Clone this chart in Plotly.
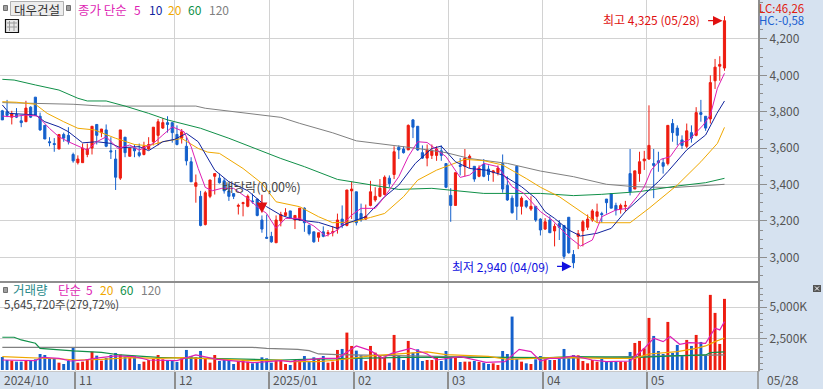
import plotly.graph_objects as go

W, H = 823, 389

# ---------- data (won / thousand shares) ----------
opens = [3805,3800,3770,3785,3750,3745,3825,3880,3775,3725,3635,3625,3595,3675,3670,3565,3520,3520,3565,3600,3730,3685,3700,3585,3540,3435,3660,3555,3600,3575,3565,3595,3635,3670,3710,3740,3740,3675,3655,3610,3525,3390,3335,3180,3335,3445,3435,3420,3365,3350,3280,3295,3280,3310,3320,3205,3110,3115,3080,3200,3230,3255,3205,3205,3270,3175,3140,3110,3140,3130,3135,3155,3210,3175,3365,3360,3240,3210,3285,3315,3335,3345,3435,3455,3605,3595,3590,3755,3720,3575,3545,3560,3560,3585,3515,3340,3285,3505,3500,3545,3500,3445,3510,3485,3465,3465,3515,3395,3325,3500,3280,3310,3265,3280,3210,3155,3205,3145,3185,3175,3220,3015,3115,3145,3165,3205,3225,3240,3320,3350,3285,3265,3280,3460,3375,3460,3530,3540,3515,3530,3520,3515,3735,3710,3645,3610,3685,3670,3795,3775,3760,3970,4050,4040]
highs = [3810,3865,3805,3820,3780,3860,3830,3880,3795,3725,3660,3655,3675,3685,3715,3575,3560,3625,3625,3720,3730,3705,3730,3660,3590,3700,3660,3600,3620,3625,3635,3660,3715,3760,3765,3775,3740,3725,3705,3660,3550,3455,3365,3365,3425,3460,3460,3435,3405,3350,3295,3305,3345,3350,3320,3230,3235,3140,3230,3250,3270,3255,3230,3270,3275,3180,3140,3135,3170,3150,3170,3240,3285,3370,3415,3360,3295,3290,3420,3385,3430,3450,3450,3610,3615,3610,3730,3760,3720,3615,3620,3620,3610,3615,3515,3380,3465,3545,3595,3565,3500,3505,3540,3505,3480,3505,3565,3445,3340,3500,3335,3315,3335,3280,3215,3215,3225,3185,3205,3175,3220,3040,3150,3205,3235,3265,3295,3250,3320,3350,3300,3295,3310,3595,3475,3580,3585,3835,3595,3580,3545,3725,3760,3725,3670,3735,3725,3825,3865,3775,4000,4090,4105,4325]
lows = [3755,3770,3730,3765,3715,3745,3765,3780,3695,3650,3610,3580,3595,3635,3620,3520,3510,3520,3550,3565,3620,3660,3605,3540,3370,3425,3550,3555,3550,3550,3560,3590,3615,3615,3705,3685,3630,3615,3625,3505,3415,3300,3170,3175,3325,3345,3405,3350,3310,3320,3235,3225,3275,3295,3225,3135,3105,3080,3080,3170,3225,3210,3155,3200,3140,3120,3080,3085,3110,3115,3115,3130,3160,3170,3210,3175,3195,3205,3280,3305,3330,3340,3385,3430,3540,3570,3590,3655,3585,3540,3500,3540,3530,3530,3380,3195,3285,3450,3445,3490,3415,3440,3440,3420,3415,3450,3355,3310,3240,3205,3235,3270,3255,3195,3120,3150,3135,3060,3095,2990,3020,2940,3045,3060,3150,3195,3190,3190,3240,3270,3230,3240,3250,3340,3375,3415,3480,3535,3325,3470,3460,3505,3635,3615,3595,3600,3630,3665,3745,3695,3735,3925,3970,4025]
closes = [3755,3780,3790,3770,3740,3820,3770,3780,3700,3650,3630,3620,3675,3655,3635,3530,3540,3600,3595,3720,3670,3705,3610,3580,3440,3700,3575,3600,3585,3560,3610,3620,3715,3745,3740,3730,3685,3620,3690,3530,3415,3410,3175,3355,3425,3460,3410,3365,3335,3335,3285,3300,3335,3305,3230,3155,3105,3085,3205,3235,3245,3215,3230,3270,3190,3130,3085,3135,3115,3135,3140,3205,3175,3370,3375,3190,3205,3225,3360,3335,3380,3440,3405,3580,3590,3575,3725,3715,3590,3545,3590,3585,3595,3560,3385,3285,3465,3500,3545,3555,3430,3490,3445,3455,3475,3490,3375,3315,3245,3280,3325,3280,3280,3205,3150,3195,3135,3170,3165,3005,3025,2970,3130,3195,3210,3255,3250,3235,3300,3270,3260,3285,3285,3360,3475,3525,3540,3615,3505,3520,3500,3725,3685,3670,3615,3695,3655,3795,3785,3710,3960,4045,4060,4300]
volumes = [1034,795,742,662,662,795,768,848,1272,1192,928,928,583,477,715,1775,583,662,848,1458,1140,742,954,1192,1352,1219,1034,1007,1113,477,662,795,875,1192,848,715,715,636,928,1590,1113,1007,1510,928,583,1192,715,795,848,477,715,795,662,530,610,1007,928,583,795,795,477,398,795,795,1113,636,1007,848,1113,583,662,1590,1670,2968,1908,1537,1166,715,1908,1378,1166,1060,583,2783,1166,795,2306,1378,1643,715,795,795,1007,715,1510,1007,1007,636,662,662,715,636,583,477,530,398,1510,1272,4240,875,662,530,477,848,1113,848,795,795,875,1670,928,1192,1166,715,530,795,662,875,662,662,662,662,662,1431,2146,2306,1722,4134,2703,1510,1272,3816,1352,1988,1113,2385,1908,2783,2226,1192,5962,4532,2067,5646]

ma5_i = [0,2,5,7.5,10,12,14,15.5,18,20,22,24.5,27,29,32,34,36,38.5,40,41.5,43,44.5,46.5,49,52,54,56,58,60,63,66,68.5,71,74,76,79,81,84,86,88,90,94,97,99,102,105,108,110.5,113,114,116.5,118,120,122.5,125,127,130,132.5,134.5,136,137.5,139.5,141.5,143.5,145.5,148.5,150,151.5,153]
ma5_v = [3776,3772,3782,3776,3708,3662,3635,3617,3589,3635,3662,3598,3617,3589,3626,3672,3717,3690,3608,3488,3384,3366,3379,3379,3324,3278,3241,3159,3214,3214,3172,3117,3150,3232,3269,3269,3333,3443,3553,3635,3631,3553,3439,3452,3516,3498,3388,3351,3278,3251,3205,3163,3113,3062,3095,3223,3260,3269,3333,3388,3480,3538,3553,3626,3645,3727,3782,3929,4011]
ma10_i = [0,1.5,7,9,12,14,17,20,23,25,29,31,34,36.5,39,41.5,45,48,52,56,59,61,64,67,71,73,77,81,84,87.5,91,93,96,99,102.5,106,110,113,115,117,120,122.5,126,129,132,135.5,139,141,145,149,150.6,151.4,153]
ma10_v = [3837,3791,3782,3745,3717,3690,3629,3635,3626,3602,3608,3586,3635,3648,3681,3635,3479,3415,3366,3278,3232,3214,3201,3192,3159,3186,3223,3333,3397,3516,3598,3611,3525,3488,3479,3452,3388,3324,3250,3214,3150,3117,3132,3159,3251,3333,3416,3471,3590,3672,3754,3791,3859]
ma20_i = [0,3,7,9.5,13,16,19.5,24,28,31,34,38,41.5,43.5,46,51,55,58,63,67,70,74.5,78,81,85,88,92,95,98,102,106,111,114,118,121.5,126,133,137,143,148,151.5,153]
ma20_v = [3855,3852,3841,3791,3745,3709,3700,3654,3620,3613,3635,3653,3598,3578,3571,3488,3406,3305,3278,3223,3190,3195,3219,3241,3333,3424,3479,3507,3538,3531,3507,3433,3385,3333,3269,3190,3190,3269,3397,3525,3626,3714]
ma60_i = [0,2.5,7,12,16,18,22,26,31,35,42,48,59,64,71,75,84,91,95,102,114,121,127,135,143,149,153]
ma60_v = [3978,3974,3947,3919,3874,3859,3859,3831,3791,3755,3709,3654,3543,3498,3428,3411,3373,3379,3369,3351,3351,3339,3346,3361,3392,3410,3434]
ma120_i = [0,15,21,41,43,49,59,63,70,75,81,88,94,99,107,114,121,128,134,142,153]
ma120_v = [3850,3841,3831,3831,3819,3800,3769,3736,3684,3640,3622,3598,3575,3543,3516,3474,3443,3401,3388,3383,3401]

vma5_i = [0,7,8.5,12,14.5,17.5,19.5,24,28,31,37,41,45.5,50.5,53,59,61,67.5,71,75,78,80.5,82.5,86.5,90,92,97,102.5,106.5,109.5,112,114,116,118,121,125,128,133,136,138,140,141.5,143.5,145.5,149,151,152,153]
vma5_v = [795,742,1007,927,715,795,927,1113,1060,795,742,1192,848,662,583,742,662,927,927,1908,1537,927,1325,1722,1272,795,1060,610,662,1643,1457,715,927,927,1113,795,662,715,1722,2517,2252,2650,2040,2173,2120,3312,3180,3842]
vma20_i = [0,4,7,12.5,16,21,27,33,38,45,53,59,61,67,71,78,84,90,94,103,107,116,118,128,134,137,143,147,149,151,153]
vma20_v = [1060,1007,980,874,795,848,980,927,980,848,742,795,662,662,795,1113,1272,1431,1219,1086,848,1007,1007,927,927,1272,1457,1722,1908,2252,2544]
vma60_i = [0,2.5,4,7,8,12.5,15,21,25,33,42,49,59,64,72,85,103,116,121,131,135,142,149,150,153]
vma60_v = [2597,2597,2385,2120,1722,1563,1510,1404,1192,1007,927,848,795,848,927,1007,1007,980,1060,1007,1007,1113,1192,1378,1431]
vma120_i = [0,53,56,62.6,65,67,71,78,91,102,116,133,142,153]
vma120_v = [1802,1802,1722,1643,1537,1272,1219,1166,1060,980,927,1060,1113,1192]

month_index = [0, 16, 37, 57, 75, 95, 115, 137]
month_labels = ["2024/10", "11", "12", "2025/01", "02", "03", "04", "05"]
last_date = "05/28"
price_ticks = [3000, 3200, 3400, 3600, 3800, 4000, 4200]
price_tick_labels = ["3,000", "3,200", "3,400", "3,600", "3,800", "4,000", "4,200"]
volume_ticks = [2500, 5000]
volume_tick_labels = ["2,500K", "5,000K"]
high_text, low_text = "최고 4,325 (05/28)", "최저 2,940 (04/09)"
high_value, low_value = 4300, 2950

# ---------- style ----------
FONT = "Noto Sans CJK KR, Liberation Sans, sans-serif"
RED, BLUE = "#EE1C10", "#1460CC"
MAGENTA, NAVY, ORANGE, GREEN, GRAY = "#DE1FB4", "#10239E", "#F0A800", "#109048", "#808080"
STRIP, GRID, AXIS, TXT = "#D6E2F0", "#D2D2D2", "#8E8E8E", "#555555"
idx = list(range(len(closes)))

fig = go.Figure()
for xs, ys, c in [(ma120_i, ma120_v, GRAY), (ma60_i, ma60_v, GREEN), (ma20_i, ma20_v, ORANGE),
                  (ma10_i, ma10_v, NAVY), (ma5_i, ma5_v, MAGENTA)]:
    fig.add_trace(go.Scatter(x=xs, y=ys, mode="lines", line=dict(color=c, width=1), xaxis="x", yaxis="y", hoverinfo="skip"))
fig.add_trace(go.Candlestick(x=idx, open=opens, high=highs, low=lows, close=closes, whiskerwidth=0,
                             increasing=dict(line=dict(color=RED, width=1), fillcolor=RED),
                             decreasing=dict(line=dict(color=BLUE, width=1), fillcolor=BLUE),
                             xaxis="x", yaxis="y"))
fig.add_trace(go.Bar(x=idx, y=volumes, width=0.62,
                     marker=dict(color=[RED if c >= o else BLUE for o, c in zip(opens, closes)], line=dict(width=0)),
                     xaxis="x2", yaxis="y2"))
for xs, ys, c in [(vma120_i, vma120_v, GRAY), (vma60_i, vma60_v, GREEN), (vma20_i, vma20_v, ORANGE), (vma5_i, vma5_v, MAGENTA)]:
    fig.add_trace(go.Scatter(x=xs, y=ys, mode="lines", line=dict(color=c, width=1.2), xaxis="x2", yaxis="y2", hoverinfo="skip"))

def px(x): return x / W
def py(y): return 1 - y / H

anns = []
def label(x, y, text, color=TXT, size=12):
    anns.append(dict(xref="paper", yref="paper", x=px(x), y=py(y), text=text, showarrow=False,
                     xanchor="left", yanchor="middle", borderpad=0, borderwidth=0,
                     font=dict(family=FONT, size=size, color=color)))

label(14, 9, "대우건설", "#333333", 12.5)
label(78, 9, "종가 단순", MAGENTA, 12.5)
label(134, 9, "5", MAGENTA, 12)
label(149, 9, "10", NAVY, 12)
label(168, 9, "20", ORANGE, 12)
label(188, 9, "60", GREEN, 12)
label(209, 9, "120", GRAY, 12)
label(759, 8, "LC:46,26", "#E02010", 11.5)
label(759, 20, "HC:-0,58", "#2060D0", 11.5)
label(13, 289.5, "거래량", "#2A8A8A", 12.5)
label(58, 289.5, "단순", MAGENTA, 12.5)
label(86, 289.5, "5", MAGENTA, 12)
label(100, 289.5, "20", ORANGE, 12)
label(120, 289.5, "60", GREEN, 12)
label(141, 289.5, "120", GRAY, 12)
label(4, 304, "5,645,720주(279,72%)", "#444444", 11.5)
label(222, 186, "배당락(0,00%)", "#444444", 12.5)
label(603, 20, high_text, "#E01010", 12)
label(452, 266, low_text, "#1010E0", 12)
label(767, 379, last_date, TXT, 12)
for i, t in zip(month_index, month_labels):
    anns.append(dict(xref="x2", yref="paper", x=max(i - 0.5, -0.49), y=py(379), xshift=2, text=t, showarrow=False,
                     xanchor="left", yanchor="middle", font=dict(family=FONT, size=12, color=TXT)))

anns.append(dict(xref="x", yref="y", x=152.6, y=high_value, ax=-16, ay=0, text="", showarrow=True, arrowhead=2,
                 arrowsize=1.6, arrowwidth=1.2, arrowcolor="#E01010"))
anns.append(dict(xref="x", yref="y", x=120.6, y=low_value, ax=-16, ay=0, text="", showarrow=True, arrowhead=2,
                 arrowsize=1.6, arrowwidth=1.2, arrowcolor="#1010E0"))
anns.append(dict(xref="x", yref="y", x=55, y=3242, ax=0, ay=-20, text="", showarrow=True, arrowhead=2,
                 arrowsize=1.8, arrowwidth=1.2, arrowcolor="#E01010"))

shapes = []
def rect(x0, y0, x1, y1, fill, line="rgba(0,0,0,0)", lw=1):
    shapes.append(dict(type="rect", xref="paper", yref="paper", x0=px(x0), x1=px(x1), y0=py(y0), y1=py(y1),
                       fillcolor=fill, line=dict(color=line, width=lw), layer="above"))
def seg(x0, y0, x1, y1, color, lw=1):
    shapes.append(dict(type="line", xref="paper", yref="paper", x0=px(x0), x1=px(x1), y0=py(y0), y1=py(y1),
                       line=dict(color=color, width=lw), layer="below"))

shapes.append(dict(type="rect", xref="paper", yref="paper", x0=px(10.5), x1=px(63.5), y0=py(1.5), y1=py(15.5),
                   fillcolor="#EDEDED", line=dict(color="#B0B0B0", width=1), layer="above"))
rect(3.5, 5.5, 7.5, 10.5, "#A0A0A0", "#707070")
rect(66.5, 5.5, 70.5, 10.5, "#A0A0A0", "#707070")
rect(3.5, 287.5, 7.5, 292.5, "#A0A0A0", "#707070")
rect(5.5, 19.5, 18.5, 32.5, "#E8E8E8", "#111111", 1.2)
for x in (9.5, 14):
    shapes.append(dict(type="line", xref="paper", yref="paper", x0=px(x), x1=px(x), y0=py(21), y1=py(31),
                       line=dict(color="#999999", width=1), layer="above"))
for y in (23, 27):
    shapes.append(dict(type="line", xref="paper", yref="paper", x0=px(7), x1=px(17), y0=py(y), y1=py(y),
                       line=dict(color="#999999", width=1), layer="above"))
shapes.append(dict(type="line", xref="paper", yref="paper", x0=px(758), x1=px(758), y0=py(371), y1=py(389),
                   line=dict(color=AXIS, width=1.5), layer="above"))
rect(813, 285, 821, 292, "#555555")
for a, b in ((286.5, 290.5), (290.5, 286.5)):
    shapes.append(dict(type="line", xref="paper", yref="paper", x0=px(815), x1=px(819), y0=py(a), y1=py(b),
                       line=dict(color="white", width=1), layer="above"))

fig.update_layout(
    width=W, height=H, margin=dict(l=0, r=0, t=0, b=0), showlegend=False,
    paper_bgcolor=STRIP, plot_bgcolor="white", bargap=0.38, boxgap=0.35,
    annotations=anns, shapes=shapes,
    xaxis=dict(domain=[0, 758 / W], range=[-0.494, 160.1], anchor="y", tickmode="array",
               tickvals=[i - 0.5 for i in month_index[1:]], showticklabels=False, ticks="",
               showgrid=True, gridcolor=GRID, gridwidth=1, showline=True, linecolor=AXIS, linewidth=2,
               zeroline=False, rangeslider=dict(visible=False)),
    yaxis=dict(domain=[py(281), 1], range=[3000 + (257.3 - 281) * 5.495, 3000 + 257.3 * 5.495], side="right",
               anchor="x", tickmode="array", tickvals=price_ticks, ticktext=price_tick_labels,
               showgrid=True, gridcolor=GRID, gridwidth=1, zeroline=False, showline=True, linecolor=AXIS, linewidth=2,
               ticks="outside", ticklen=7, tickcolor=AXIS, tickwidth=1,
               minor=dict(tickmode="linear", tick0=3000, dtick=50, ticks="outside", ticklen=3, tickcolor=AXIS, showgrid=False),
               tickfont=dict(family=FONT, size=12, color=TXT)),
    xaxis2=dict(domain=[0, 758 / W], range=[-0.494, 160.1], anchor="y2", tickmode="array",
                tickvals=[i - 0.5 for i in month_index[1:]], showticklabels=False, ticks="outside", ticklen=18,
                tickcolor=AXIS, tickwidth=1.5, showgrid=True, gridcolor=GRID, gridwidth=1, zeroline=False,
                showline=True, linecolor="#C8C8C8", linewidth=1),
    yaxis2=dict(domain=[py(371), py(283)], range=[-80, 6905], side="right", anchor="x2", tickmode="array",
                tickvals=volume_ticks, ticktext=volume_tick_labels, showgrid=True, gridcolor=GRID, gridwidth=1,
                zeroline=False, showline=True, linecolor=AXIS, linewidth=2, ticks="outside", ticklen=7,
                tickcolor=AXIS, tickwidth=1,
                minor=dict(tickmode="linear", tick0=0, dtick=500, ticks="outside", ticklen=3, tickcolor=AXIS, showgrid=False),
                tickfont=dict(family=FONT, size=12, color=TXT)),
)
fig.write_html("out.html", config=dict(displayModeBar=False),
               post_script="document.body.style.margin='0';document.documentElement.style.overflow='hidden';")
